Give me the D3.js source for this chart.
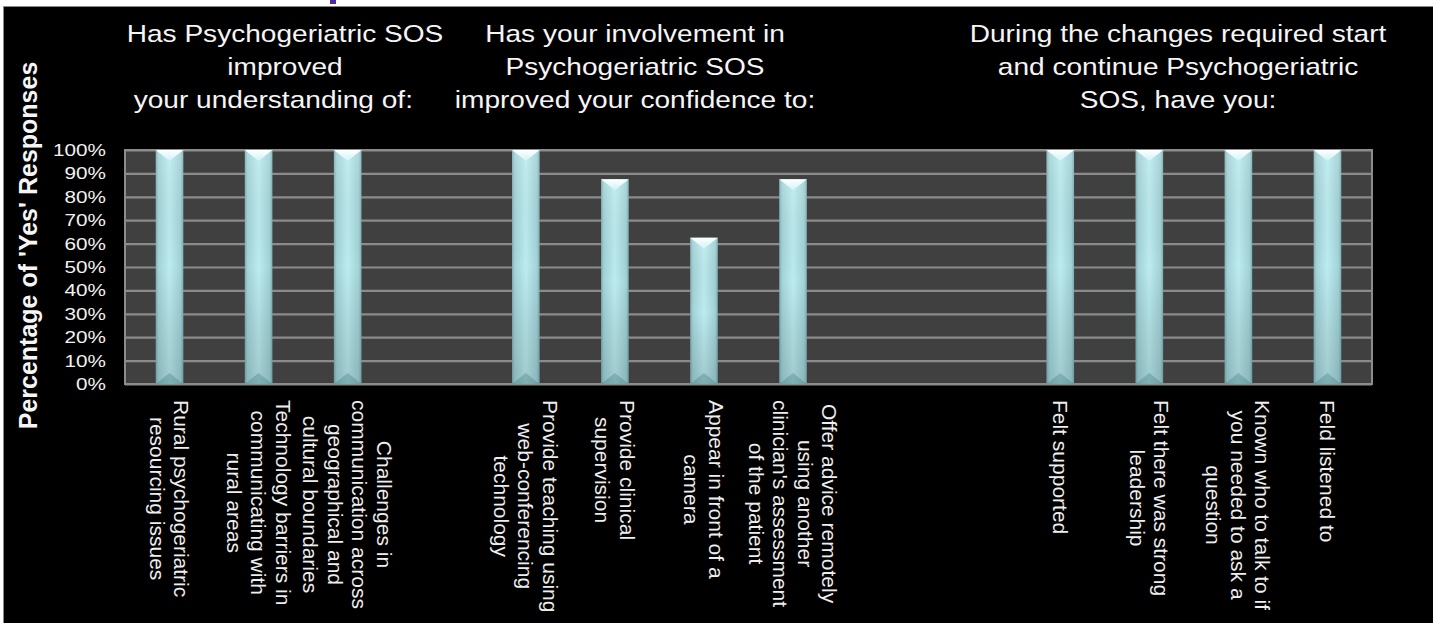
<!DOCTYPE html>
<html><head><meta charset="utf-8">
<script src="https://cdn.jsdelivr.net/npm/d3@7"></script>
<style>html,body{margin:0;padding:0;background:#fff;overflow:hidden}</style>
</head><body><svg id="c" width="1433" height="623"></svg>
<script>
// ---- data ----
const categories = [
  "Rural psychogeriatric\nresourcing issues",
  "Technology barriers in\ncommunicating with\nrural areas",
  "Challenges in\ncommunication across\ngeographical and\ncultural boundaries",
  "",
  "Provide teaching using\nweb-conferencing\ntechnology",
  "Provide clinical\nsupervision",
  "Appear in front of a\ncamera",
  "Offer advice remotely\nusing another\nclinician's assessment\nof the patient",
  "",
  "",
  "Felt supported",
  "Felt there was strong\nleadership",
  "Known who to talk to if\nyou needed to ask a\nquestion",
  "Feld listened to"
];
const values = [1, 1, 1, null, 1, 0.875, 0.625, 0.875, null, null, 1, 1, 1, 1];
const tickValues = [0, 0.1, 0.2, 0.3, 0.4, 0.5, 0.6, 0.7, 0.8, 0.9, 1];
const tickLabels = ["0%", "10%", "20%", "30%", "40%", "50%", "60%", "70%", "80%", "90%", "100%"];
const groupTitles = [
  ["Has Psychogeriatric SOS", "improved", "your understanding of:\u00a0\u00a0\u00a0"],
  ["Has your involvement in", "Psychogeriatric SOS", "improved your confidence to:"],
  ["During the changes required start", "and continue Psychogeriatric", "SOS, have you:"]
];
const groupTitleCenters = [285, 635, 1178];
const yTitle = "Percentage of 'Yes' Responses";

// ---- layout ----
const font = "'Liberation Sans', Arial, sans-serif";
const plot = {left: 125, right: 1372, top: 150, bottom: 384};
const svg = d3.select("#c");

const x = d3.scaleBand().domain(d3.range(categories.length))
  .range([plot.left, plot.right]).paddingInner(0.69).paddingOuter(0.345);
const y = d3.scaleLinear().domain([0, 1]).range([plot.bottom, plot.top]);

const defs = svg.append("defs");
const gH = defs.append("linearGradient").attr("id", "barH").attr("x1", 0).attr("x2", 1).attr("y1", 0).attr("y2", 0);
[[0, "#7fafb3"], [0.1, "#a3d3d7"], [0.5, "#bdecf0"], [0.9, "#a3d3d7"], [1, "#7fafb3"]]
  .forEach(([o, c]) => gH.append("stop").attr("offset", o).attr("stop-color", c));
const gV = defs.append("linearGradient").attr("id", "barV").attr("x1", 0).attr("x2", 0).attr("y1", 0).attr("y2", 1);
[[0, "rgba(255,255,255,0.10)", ], [0.5, "rgba(0,0,0,0)"], [1, "rgba(30,60,65,0.18)"]]
  .forEach(([o, c]) => gV.append("stop").attr("offset", o).attr("stop-color", c));
const gT = defs.append("linearGradient").attr("id", "topTri").attr("x1", 0).attr("x2", 0).attr("y1", 0).attr("y2", 1);
[[0, "#ffffff"], [1, "#cdf3f5"]].forEach(([o, c]) => gT.append("stop").attr("offset", o).attr("stop-color", c));

// small purple fragment of the slide heading above the chart (decoration)
svg.append("rect").attr("x", 330).attr("y", 0).attr("width", 6).attr("height", 4).attr("fill", "#4b2fa0");

// black panel
svg.append("rect").attr("x", 3.5).attr("y", 6.5).attr("width", 1440).attr("height", 630)
  .attr("fill", "#000").attr("stroke", "#8a8a8a").attr("stroke-width", 1);

// plot background
svg.append("rect").attr("x", plot.left).attr("y", plot.top)
  .attr("width", plot.right - plot.left).attr("height", plot.bottom - plot.top)
  .attr("fill", "#404040").attr("stroke", "#8c8c8c").attr("stroke-width", 2);

// gridlines
const grid = svg.append("g").attr("transform", `translate(${plot.left},0)`)
  .call(d3.axisLeft(y).tickValues(tickValues).tickSize(-(plot.right - plot.left)).tickFormat(""));
grid.select(".domain").remove();
grid.selectAll("line").attr("stroke", "#8b8b8b").attr("stroke-width", 2.2);

// y tick labels
const yAx = svg.append("g").attr("transform", `translate(106,0)`)
  .call(d3.axisLeft(y).tickValues(tickValues).tickFormat((d, i) => tickLabels[i]).tickSize(0).tickPadding(0));
yAx.select(".domain").remove();
yAx.selectAll("text").attr("x", 0).attr("font-family", font).attr("font-size", 17)
  .attr("fill", "#f2f2f2").attr("transform", "scale(1.22,1)");

// bars
const bw = x.bandwidth();
const bars = svg.append("g").selectAll("g")
  .data(values.map((v, i) => ({v, i})).filter(d => d.v != null))
  .join("g");
bars.append("rect").attr("x", d => x(d.i)).attr("y", d => y(d.v))
  .attr("width", bw).attr("height", d => y(0) - y(d.v)).attr("fill", "url(#barH)");
bars.append("rect").attr("x", d => x(d.i)).attr("y", d => y(d.v))
  .attr("width", bw).attr("height", d => y(0) - y(d.v)).attr("fill", "url(#barV)");
const bev = 11;
bars.append("path").attr("d", d => {
  const x0 = x(d.i), x1 = x0 + bw, yt = y(d.v);
  return `M${x0},${yt}L${x1},${yt}L${x0 + bw / 2},${yt + bev}Z`;
}).attr("fill", "url(#topTri)");
bars.append("path").attr("d", d => {
  const x0 = x(d.i), x1 = x0 + bw, yb = y(0);
  return `M${x0},${yb}L${x1},${yb}L${x0 + bw / 2},${yb - bev}Z`;
}).attr("fill", "rgba(70,120,125,0.35)");

// category labels (rotated, centred lines, block top-aligned)
const lh = 24.5;
categories.forEach((lab, i) => {
  if (!lab) return;
  const lines = lab.split("\n");
  const g = svg.append("g")
    .attr("transform", `translate(${x(i) + bw / 2},400) rotate(90)`);
  const t = g.selectAll("text").data(lines).join("text")
    .attr("y", (d, j) => (j - (lines.length - 1) / 2) * lh)
    .attr("text-anchor", "middle").attr("dominant-baseline", "central")
    .attr("font-family", font).attr("font-size", 21).attr("fill", "#eeeeee")
    .text(d => d);
  let maxLen = 0;
  t.each(function () { maxLen = Math.max(maxLen, this.getComputedTextLength()); });
  t.attr("x", maxLen / 2);
});

// y axis title
svg.append("text").attr("transform", "translate(28,245.5) rotate(-90)")
  .attr("text-anchor", "middle").attr("dominant-baseline", "central")
  .attr("font-family", font).attr("font-size", 25).attr("font-weight", "bold")
  .attr("fill", "#f5f5f5").text(yTitle);

// group titles
groupTitles.forEach((lines, gi) => {
  lines.forEach((ln, j) => {
    svg.append("text")
      .attr("transform", `translate(${groupTitleCenters[gi]},${42 + j * 33}) scale(1.17,1)`)
      .attr("text-anchor", "middle").attr("font-family", font).attr("font-size", 24)
      .attr("fill", "#f5f5f5").text(ln);
  });
});
</script></body></html>
